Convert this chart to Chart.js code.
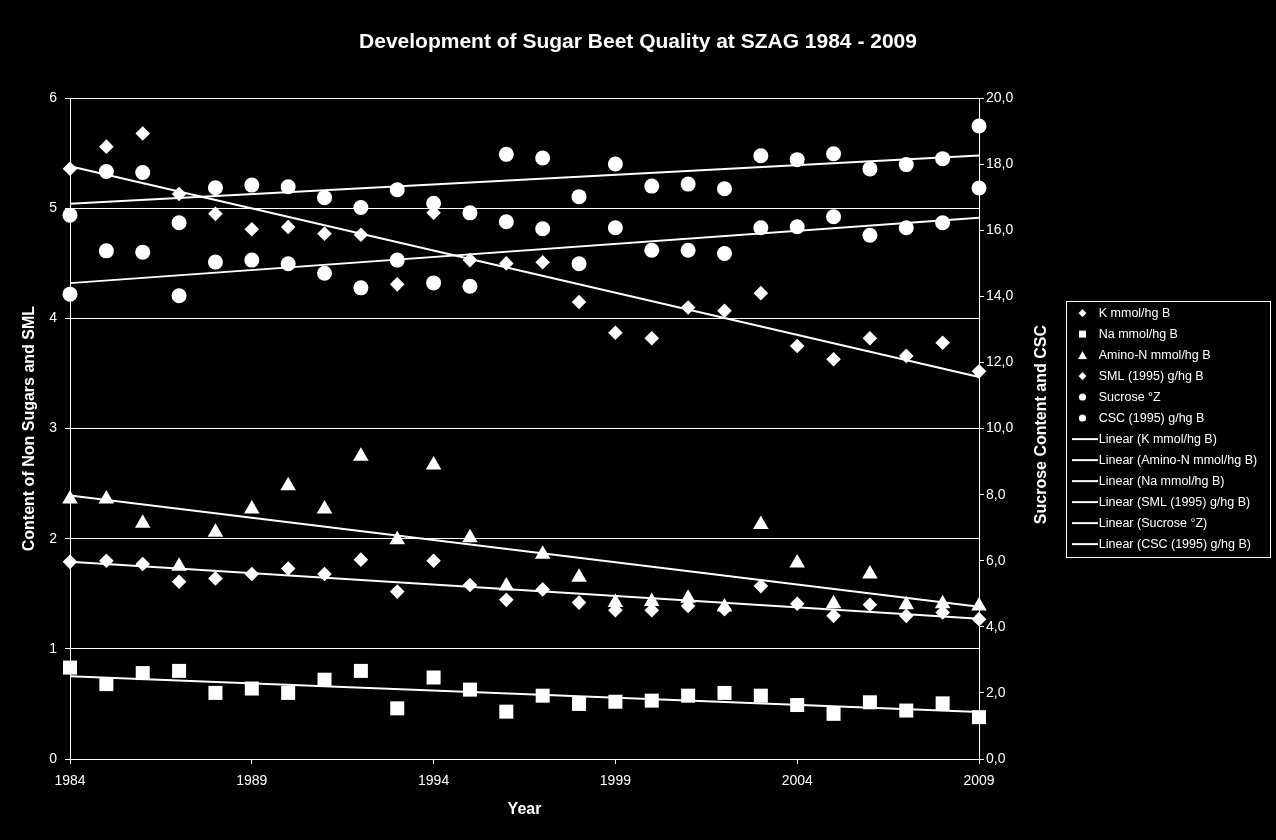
<!DOCTYPE html>
<html>
<head>
<meta charset="utf-8">
<title>Development of Sugar Beet Quality at SZAG 1984 - 2009</title>
<script src="https://cdn.jsdelivr.net/npm/chart.js@4.4.1/dist/chart.umd.min.js"></script>
<style>
  html, body { margin: 0; padding: 0; background: #000; }
  #chart-wrap { width: 1276px; height: 840px; }
</style>
</head>
<body>
<div id="chart-wrap"><canvas id="grafico" width="1276" height="840"></canvas></div>
<script>
const years = [1984, 1985, 1986, 1987, 1988, 1989, 1990, 1991, 1992, 1993, 1994, 1995, 1996,
               1997, 1998, 1999, 2000, 2001, 2002, 2003, 2004, 2005, 2006, 2007, 2008, 2009];
const xTicks = [1984, 1989, 1994, 1999, 2004, 2009];

// left axis (mmol/hg B, g/hg B)
const potassium = [5.36, 5.56, 5.68, 5.13, 4.95, 4.81, 4.83, 4.77, 4.76, 4.31, 4.96, 4.53, 4.50,
                   4.51, 4.15, 3.87, 3.82, 4.10, 4.07, 4.23, 3.75, 3.63, 3.82, 3.66, 3.78, 3.52];
const sodium = [0.83, 0.68, 0.78, 0.80, 0.60, 0.64, 0.60, 0.72, 0.80, 0.46, 0.74, 0.63, 0.43,
                0.575, 0.50, 0.52, 0.53, 0.575, 0.60, 0.575, 0.49, 0.41, 0.515, 0.44, 0.505, 0.38];
const aminoN = [2.36, 2.36, 2.14, 1.75, 2.06, 2.27, 2.48, 2.27, 2.75, 1.99, 2.67, 2.01, 1.57,
                1.86, 1.65, 1.42, 1.43, 1.46, 1.38, 2.13, 1.78, 1.41, 1.68, 1.40, 1.41, 1.39];
const sml = [1.79, 1.80, 1.77, 1.61, 1.64, 1.68, 1.73, 1.68, 1.81, 1.52, 1.80, 1.58, 1.445,
             1.54, 1.42, 1.35, 1.35, 1.39, 1.36, 1.57, 1.41, 1.30, 1.40, 1.30, 1.33, 1.27];

// right axis (°Z, g/hg B)
const sucrose = [16.46, 17.78, 17.75, 16.23, 17.29, 17.37, 17.32, 16.99, 16.69, 17.23, 16.82, 16.53, 18.30,
                 18.19, 17.02, 18.01, 17.34, 17.40, 17.26, 18.26, 18.14, 18.32, 17.86, 17.99, 18.17, 19.16];
const csc = [14.07, 15.38, 15.34, 14.02, 15.04, 15.10, 14.99, 14.70, 14.26, 15.10, 14.41, 14.31, 16.26,
             16.05, 14.99, 16.08, 15.40, 15.40, 15.30, 16.08, 16.11, 16.41, 15.85, 16.08, 16.23, 17.28];

const chartTitle = "Development of Sugar Beet Quality at SZAG 1984 - 2009";
const leftTitle = "Content of Non Sugars and SML";
const rightTitle = "Sucrose Content and CSC";
const xTitle = "Year";

const FONT = '"Liberation Sans", Arial, sans-serif';
Chart.defaults.font.family = FONT;
Chart.defaults.color = "#fff";

let margem = 0;

function pontos(ys) {
    return years.map((x, i) => ({ x: x, y: ys[i] }));
}

// linear trendline (least squares), like Excel's "Linear (...)"
function tendencia(ys) {
    const n = years.length;
    const mx = years.reduce((a, b) => a + b, 0) / n;
    const my = ys.reduce((a, b) => a + b, 0) / n;
    let sxy = 0, sxx = 0;
    years.forEach((x, i) => { sxy += (x - mx) * (ys[i] - my); sxx += (x - mx) * (x - mx); });
    const b = sxy / sxx, a = my - b * mx;
    const x0 = years[0], x1 = years[n - 1];
    return [{ x: x0, y: a + b * x0 }, { x: x1, y: a + b * x1 }];
}

function marca(forma) {
    const c = document.createElement("canvas");
    c.width = 26; c.height = 12;
    const g = c.getContext("2d");
    g.fillStyle = "#fff";
    if (forma === "line") { g.fillRect(0, 5, 26, 2); return c; }
    const cx = 10.5, cy = 6;
    g.beginPath();
    if (forma === "diamond") { g.moveTo(cx, cy - 4); g.lineTo(cx + 4, cy); g.lineTo(cx, cy + 4); g.lineTo(cx - 4, cy); }
    else if (forma === "square") { g.rect(cx - 3.5, cy - 3.5, 7, 7); }
    else if (forma === "triangle") { g.moveTo(cx, cy - 4); g.lineTo(cx + 4.5, cy + 4); g.lineTo(cx - 4.5, cy + 4); }
    else { g.arc(cx, cy, 3.6, 0, Math.PI * 2); }
    g.closePath();
    g.fill();
    return c;
}

function serie(label, ys, estilo, raio, eixo, legenda) {
    return {
        type: "scatter", label: label, data: pontos(ys), yAxisID: eixo,
        pointStyle: estilo, pointRadius: raio, pointHoverRadius: raio,
        backgroundColor: "#fff", borderColor: "#fff", borderWidth: 0,
        clip: false, legendMark: marca(legenda)
    };
}

function linha(label, ys, eixo) {
    return {
        type: "line", label: label, data: tendencia(ys), yAxisID: eixo,
        borderColor: "#fff", borderWidth: 2, pointRadius: 0, fill: false,
        clip: false, legendMark: marca("line")
    };
}

const caixaLegenda = {
    id: "caixaLegenda",
    afterDraw(chart) {
        const lg = chart.legend, hb = lg.legendHitBoxes;
        if (!hb || !hb.length) return;
        const ctx = chart.ctx;
        const ih = hb[0].height;
        const top = Math.round(hb[0].top + ih / 2 - 12);
        const bottom = Math.round(hb[hb.length - 1].top + ih / 2 + 13);
        const left = Math.round(lg.left - 3);
        ctx.save();
        ctx.strokeStyle = "#fff";
        ctx.lineWidth = 1;
        ctx.strokeRect(left + 0.5, top + 0.5, 204, bottom - top);
        // right axis title, read bottom to top
        const y2 = chart.scales.y2, area = chart.chartArea;
        ctx.translate(y2.left + 63, (area.top + area.bottom) / 2 - 4);
        ctx.rotate(-Math.PI / 2);
        ctx.fillStyle = "#fff";
        ctx.font = "bold 16px " + FONT;
        ctx.textAlign = "center";
        ctx.textBaseline = "middle";
        ctx.fillText(rightTitle, 0, 0);
        ctx.restore();
    }
};

const grafico = new Chart(document.getElementById("grafico"), {
    data: {
        datasets: [
            serie("K mmol/hg B", potassium, "rectRot", 7.3, "y", "diamond"),
            serie("Na mmol/hg B", sodium, "rect", 9.9, "y", "square"),
            serie("Amino-N mmol/hg B", aminoN, "triangle", 9, "y", "triangle"),
            serie("SML (1995) g/hg B", sml, "rectRot", 7.3, "y", "diamond"),
            serie("Sucrose °Z", sucrose, "circle", 7.5, "y2", "circle"),
            serie("CSC (1995) g/hg B", csc, "circle", 7.5, "y2", "circle"),
            linha("Linear (K mmol/hg B)", potassium, "y"),
            linha("Linear (Amino-N mmol/hg B)", aminoN, "y"),
            linha("Linear (Na mmol/hg B)", sodium, "y"),
            linha("Linear (SML (1995) g/hg B)", sml, "y"),
            linha("Linear (Sucrose °Z)", sucrose, "y2"),
            linha("Linear (CSC (1995) g/hg B)", csc, "y2")
        ]
    },
    options: {
        responsive: false,
        animation: false,
        devicePixelRatio: 1,
        layout: { padding: { left: 0, right: 0, top: 0, bottom: 0 } },
        plugins: {
            title: {
                display: true, text: chartTitle, color: "#fff",
                font: { size: 21, weight: "bold" },
                padding: { top: 30, bottom: 43 }
            },
            legend: {
                position: "right", fullSize: false,
                labels: {
                    usePointStyle: true, pointStyleWidth: 15,
                    padding: 8.5, color: "#fff", font: { size: 12.5 },
                    generateLabels: chart => chart.data.datasets.map((ds, i) => ({
                        text: ds.label, datasetIndex: i, hidden: false,
                        fillStyle: "#fff", strokeStyle: "#fff", lineWidth: 0,
                        fontColor: "#fff", pointStyle: ds.legendMark
                    }))
                }
            },
            tooltip: { enabled: false }
        },
        scales: {
            x: {
                type: "linear", position: "bottom", min: 1984, max: 2009,
                afterBuildTicks: s => { s.ticks = xTicks.map(v => ({ value: v })); },
                afterFit: s => { s.height = 81; },
                ticks: { color: "#fff", font: { size: 14 }, padding: 9, maxRotation: 0,
                         callback: v => String(v) },
                grid: { drawOnChartArea: false, color: "#fff", tickLength: 5 },
                border: { color: "#fff" },
                title: { display: true, text: xTitle, color: "#fff",
                         font: { size: 16, weight: "bold" }, padding: { bottom: 21 } }
            },
            y: {
                position: "left", min: 0, max: 6,
                afterFit: s => { s.width = 70 - margem; },
                ticks: { stepSize: 1, color: "#fff", font: { size: 14 }, padding: 8 },
                grid: { color: "#fff", lineWidth: 1, tickLength: 5 },
                border: { color: "#fff" },
                title: { display: true, text: leftTitle, color: "#fff",
                         font: { size: 16, weight: "bold" }, padding: { top: 20 } }
            },
            y2: {
                position: "right", min: 0, max: 20,
                afterFit: s => { s.width = 90; },
                ticks: { stepSize: 2, color: "#fff", font: { size: 14 }, padding: 2,
                         callback: v => v.toFixed(1).replace(".", ",") },
                grid: { drawOnChartArea: false, color: "#fff", tickLength: 5 },
                border: { color: "#fff" }
            }
        }
    },
    plugins: [caixaLegenda]
});

// keep the plot right edge at x=979 whatever the legend width, and the title centred
margem = Math.max(0, 1276 - 979 - 90 - grafico.legend.width);
grafico.options.layout.padding = { left: margem, right: margem, top: 0, bottom: 0 };
grafico.options.scales.y.title.padding = { top: 20 - margem };
grafico.update();
</script>
</body>
</html>
